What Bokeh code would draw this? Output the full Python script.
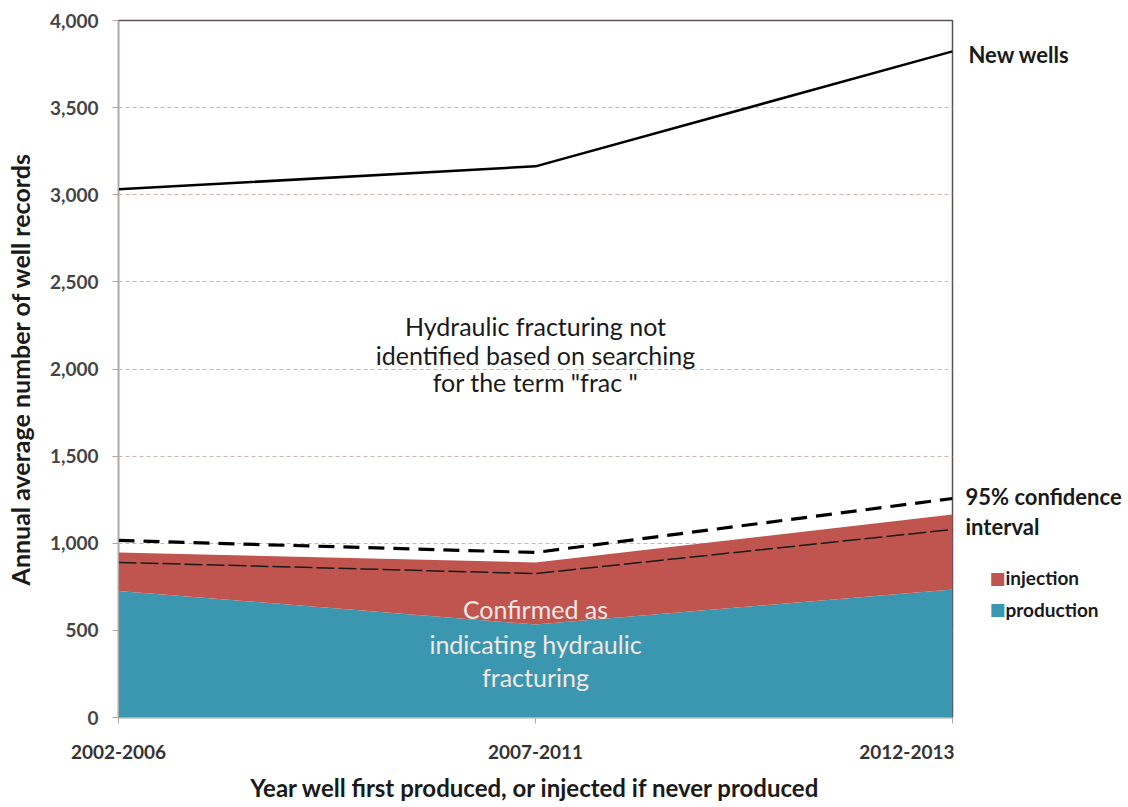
from bokeh.plotting import figure
from bokeh.layouts import row
from bokeh.models import Label, FixedTicker, NumeralTickFormatter, Range1d
from bokeh.embed import file_html
from bokeh.resources import INLINE

periods = ["2002-2006", "2007-2011", "2012-2013"]
new_wells = [3031, 3163, 3823]
production = [726, 534, 735]
injection = [221, 356, 430]
ci_lower = [890, 826, 1079]
ci_upper = [1016, 947, 1257]
y_ticks = [0, 500, 1000, 1500, 2000, 2500, 3000, 3500, 4000]

xs = list(range(len(periods)))
total = [p_ + i_ for p_, i_ in zip(production, injection)]

TEAL = "#3b97b0"
RED = "#c0554f"
FONT = "Lato"
H = 806
TOP = 20
BOTTOM = 89

yr = Range1d(0, 4000)
p = figure(width=954, height=H, output_backend="svg", toolbar_location=None,
           x_range=Range1d(0, 2), y_range=yr,
           min_border_left=118, min_border_right=2, min_border_top=TOP,
           min_border_bottom=BOTTOM, background_fill_color="white",
           border_fill_color="white")

p.varea(x=xs, y1=[0] * len(xs), y2=production, fill_color=TEAL)
p.varea(x=xs, y1=production, y2=total, fill_color=RED)
p.line(xs, ci_lower, line_color="#1a1a1a", line_width=1.5, line_dash="18 4")
p.line(xs, ci_upper, line_color="black", line_width=3.2, line_dash="16 9")
p.line(xs, new_wells, line_color="black", line_width=2.5)

# axes
p.xaxis.ticker = FixedTicker(ticks=xs)
p.xaxis.major_label_overrides = {i: s for i, s in enumerate(periods)}
p.xaxis.axis_label = "Year well first produced, or injected if never produced"
p.xaxis.axis_label_text_font = FONT
p.xaxis.axis_label_text_font_style = "bold"
p.xaxis.axis_label_text_font_size = "24px"
p.xaxis.axis_label_text_color = "#1a1a1a"
p.xaxis.major_label_text_font = FONT
p.xaxis.major_label_text_font_style = "bold"
p.xaxis.major_label_text_font_size = "19px"
p.xaxis.major_label_text_color = "#333333"
p.xaxis.major_label_standoff = 21
p.xaxis.axis_label_standoff = 11
p.xaxis.axis_line_color = "#b0a8a8"
p.xaxis.major_tick_line_color = "#b0a8a8"
p.xaxis.major_tick_out = 6
p.xaxis.major_tick_in = 0
p.xaxis.minor_tick_line_color = None

p.yaxis.ticker = FixedTicker(ticks=y_ticks)
p.yaxis.formatter = NumeralTickFormatter(format="0,0")
p.yaxis.axis_label = "Annual average number of well records"
p.yaxis.axis_label_text_font = FONT
p.yaxis.axis_label_text_font_style = "bold"
p.yaxis.axis_label_text_font_size = "25px"
p.yaxis.axis_label_text_color = "#1a1a1a"
p.yaxis.major_label_text_font = FONT
p.yaxis.major_label_text_font_style = "bold"
p.yaxis.major_label_text_font_size = "19px"
p.yaxis.major_label_text_color = "#444444"
p.yaxis.major_label_standoff = 14
p.yaxis.axis_label_standoff = 12
p.yaxis.axis_line_color = "#b0a8a8"
p.yaxis.major_tick_line_color = "#b0a8a8"
p.yaxis.major_tick_out = 6
p.yaxis.major_tick_in = 0
p.yaxis.minor_tick_line_color = None

p.xgrid.grid_line_color = None
p.ygrid.grid_line_color = "#d4b0b0"
p.ygrid.grid_line_dash = "4 3"
p.ygrid.grid_line_width = 1
p.outline_line_color = "#5a5050"
p.outline_line_width = 1.5

# annotations inside plot
for txt, yv in [("Hydraulic fracturing not", 2244),
                ("identified based on searching", 2083),
                ("for the term \"frac \"", 1923)]:
    p.add_layout(Label(x=1, y=yv, text=txt, text_align="center",
                       text_baseline="middle", text_font=FONT,
                       text_font_size="25px", text_color="#1a1a1a"))
for txt, yv in [("Confirmed as", 620), ("indicating hydraulic", 419),
                ("fracturing", 235)]:
    p.add_layout(Label(x=1, y=yv, text=txt, text_align="center",
                       text_baseline="middle", text_font=FONT,
                       text_font_size="25px", text_color="#f3e8e4"))

# right-hand annotation strip sharing the y scale
p2 = figure(width=174, height=H, output_backend="svg", toolbar_location=None,
            x_range=Range1d(0, 174), y_range=yr, x_axis_type=None,
            y_axis_type=None, min_border_left=0, min_border_right=0,
            min_border_top=TOP, min_border_bottom=BOTTOM,
            background_fill_color="white", border_fill_color="white")
p2.grid.grid_line_color = None
p2.outline_line_color = None

def side_label(x, y, text, size, color="#1a1a1a", font=FONT, bold=True):
    p2.add_layout(Label(x=x, y=y, text=text, text_align="left",
                        text_baseline="middle", text_font=font,
                        text_font_style="bold" if bold else "normal",
                        text_font_size=size, text_color=color))

side_label(14, 3805, "New wells", "22px")
side_label(11, 1268, "95% confidence", "22px")
side_label(11, 1096, "interval", "22px")
for txt, col, yv in [("injection", RED, 803), ("production", TEAL, 620)]:
    side_label(35, yv, "\u25A0", "17px", color=col, font="DejaVu Sans",
               bold=False)
    side_label(51, yv, txt, "19px")

open("out.html", "w").write(file_html(row(p, p2), INLINE))
